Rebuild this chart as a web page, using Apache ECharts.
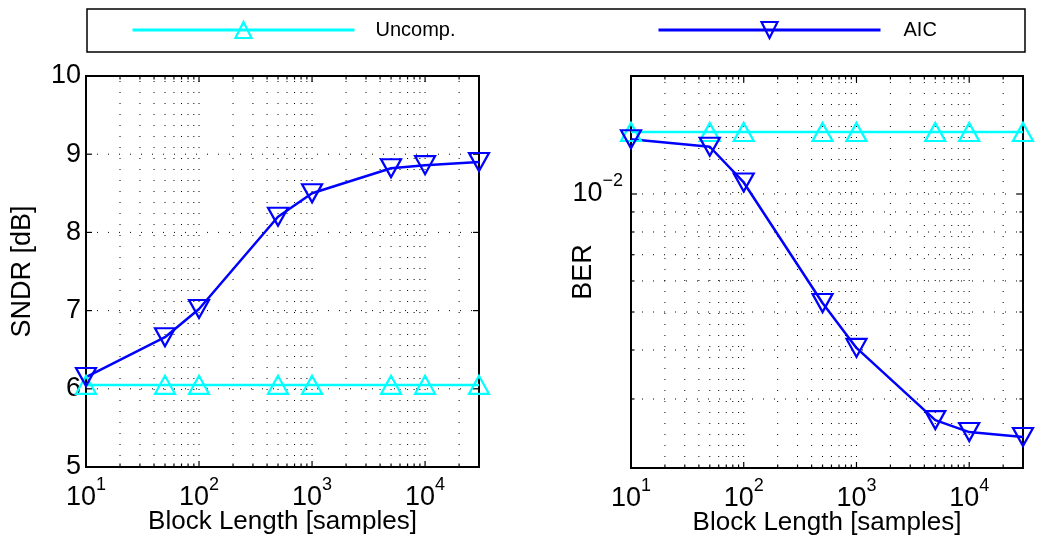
<!DOCTYPE html>
<html>
<head>
<meta charset="utf-8">
<script src="https://cdn.jsdelivr.net/npm/echarts@6/dist/echarts.min.js"></script>
<style>
  html, body { margin: 0; padding: 0; background: #fff; }
  #chart { width: 1039px; height: 546px; }
</style>
</head>
<body>
<div id="chart"></div>
<script>
// Block lengths (samples) at which both schemes were evaluated
const blockLength = [10, 50, 100, 500, 1000, 5000, 10000, 30000];

// SNDR [dB]
const sndrUncomp = [6.05, 6.05, 6.05, 6.05, 6.05, 6.05, 6.05, 6.05];
const sndrAic    = [6.15, 6.66, 7.02, 8.20, 8.50, 8.82, 8.86, 8.90];

// Bit error rate
const berUncomp = [0.0144, 0.0144, 0.0144, 0.0144, 0.0144, 0.0144, 0.0144, 0.0144];
const berAic    = [0.0138, 0.0132, 0.0107, 0.00527, 0.00405, 0.00265, 0.00247, 0.0024];

// Axis ranges and tick values
const xRange = [10, 30000];
const sndrRange = [5, 10];
const sndrTicks = [5, 6, 7, 8, 9, 10];
const berRange = [0.002, 0.02];

const FONT = 'Liberation Sans, Arial, Helvetica, sans-serif';
const CYAN = '#00ffff';
const BLUE = '#0000ff';

// 1..9 x 10^k ticks inside [lo, hi]
function logTicks(lo, hi) {
  const out = [];
  for (let e = Math.floor(Math.log10(lo)); e <= Math.ceil(Math.log10(hi)); e++) {
    for (let m = 1; m < 10; m++) {
      const v = m * Math.pow(10, e);
      if (v >= lo * 0.9999 && v <= hi * 1.0001) out.push(v);
    }
  }
  return out;
}
const xTicks = logTicks(xRange[0], xRange[1]);
const berTicks = logTicks(berRange[0], berRange[1]);

function isDecade(v) {
  const e = Math.log10(v);
  return Math.abs(e - Math.round(e)) < 1e-6;
}

function zip(xs, ys) { return xs.map((x, i) => [x, ys[i]]); }

function powLabel(v) {
  if (!isDecade(v)) return '';
  const e = Math.round(Math.log10(v));
  return '{b|10}{s|' + String(e).replace('-', '\u2212') + '}';
}

const powRich = {
  b: { fontFamily: FONT, fontSize: 27, color: '#000', lineHeight: 44 },
  s: { fontFamily: FONT, fontSize: 18, color: '#000', verticalAlign: 'top', lineHeight: 20 }
};

const dotted = { stroke: '#000', lineWidth: 1, lineDash: [1, 10] };
const tickStyle = { stroke: '#000', lineWidth: 1.2 };

// Vertical dotted grid lines with ticks on the bottom and top edges
function verticalGrid(yLo, yHi) {
  return function (params, api) {
    const v = api.value(0);
    const major = isDecade(v);
    const b = api.coord([v, yLo]);
    const t = api.coord([v, yHi]);
    const len = major ? 6 : 3.5;
    return {
      type: 'group',
      children: [
        { type: 'line', shape: { x1: b[0], y1: b[1], x2: t[0], y2: t[1] }, style: dotted },
        { type: 'line', shape: { x1: b[0], y1: b[1], x2: b[0], y2: b[1] - len }, style: tickStyle },
        { type: 'line', shape: { x1: t[0], y1: t[1], x2: t[0], y2: t[1] + len }, style: tickStyle }
      ]
    };
  };
}

// Horizontal dotted grid lines with ticks on the left and right edges
function horizontalGrid(xLo, xHi, logY) {
  return function (params, api) {
    const v = api.value(1);
    const major = logY ? isDecade(v) : true;
    const l = api.coord([xLo, v]);
    const r = api.coord([xHi, v]);
    const len = major ? 6 : 3.5;
    return {
      type: 'group',
      children: [
        { type: 'line', shape: { x1: l[0], y1: l[1], x2: r[0], y2: r[1] }, style: dotted },
        { type: 'line', shape: { x1: l[0], y1: l[1], x2: l[0] + len, y2: l[1] }, style: tickStyle },
        { type: 'line', shape: { x1: r[0], y1: r[1], x2: r[0] - len, y2: r[1] }, style: tickStyle }
      ]
    };
  };
}

function xAxisDef(gridIndex) {
  return {
    gridIndex: gridIndex,
    type: 'log',
    logBase: 10,
    min: xRange[0],
    max: xRange[1],
    name: 'Block Length [samples]',
    nameLocation: 'middle',
    nameGap: 42,
    nameMoveOverlap: false,
    nameTextStyle: { fontFamily: FONT, fontSize: 26, color: '#000' },
    axisLine: { show: false },
    axisTick: { show: false },
    splitLine: { show: false },
    axisLabel: { margin: 9, formatter: powLabel, rich: powRich }
  };
}

function lineSeries(name, color, rotate, xi, data) {
  return {
    name: name,
    type: 'line',
    xAxisIndex: xi,
    yAxisIndex: xi,
    data: data,
    clip: false,
    symbol: 'triangle',
    symbolSize: [20, 18],
    symbolRotate: rotate,
    showAllSymbol: true,
    lineStyle: { color: color, width: 2.5 },
    itemStyle: { color: 'rgba(255,255,255,0)', borderColor: color, borderWidth: 2.2 },
    z: 5
  };
}

function legendDef(name, left, textGap) {
  return {
    data: [name],
    left: left, top: 20, padding: 0,
    itemWidth: 222, itemHeight: 20,
    symbolRotate: 'inherit',
    lineStyle: { width: 3 },
    itemStyle: { borderWidth: 2.2 },
    textStyle: { fontFamily: FONT, fontSize: 20, color: '#000', padding: [0, 0, 0, textGap] }
  };
}

const chart = echarts.init(document.getElementById('chart'), null, { renderer: 'canvas' });

const option = {
  animation: false,
  backgroundColor: '#fff',
  graphic: [{
    type: 'rect',
    z: -1,
    shape: { x: 87, y: 9, width: 938, height: 43 },
    style: { fill: '#fff', stroke: '#000', lineWidth: 1.5 }
  }],
  legend: [legendDef('Uncomp.', 131, 16), legendDef('AIC', 657, 18)],
  grid: [
    { left: 86, top: 76, width: 393, height: 391, show: true, borderColor: '#000', borderWidth: 2, backgroundColor: '#fff' },
    { left: 631, top: 76, width: 392, height: 392, show: true, borderColor: '#000', borderWidth: 2, backgroundColor: '#fff' }
  ],
  xAxis: [xAxisDef(0), xAxisDef(1)],
  yAxis: [
    {
      gridIndex: 0,
      type: 'value',
      min: sndrRange[0], max: sndrRange[1], interval: 1,
      name: 'SNDR [dB]',
      nameLocation: 'middle',
      nameGap: 50,
      nameMoveOverlap: false,
      nameTextStyle: { fontFamily: FONT, fontSize: 27, color: '#000' },
      axisLine: { show: false },
      axisTick: { show: false },
      splitLine: { show: false },
      axisLabel: { margin: 5, fontFamily: FONT, fontSize: 27, color: '#000' }
    },
    {
      gridIndex: 1,
      type: 'log',
      logBase: 10,
      min: berRange[0], max: berRange[1],
      name: 'BER',
      nameLocation: 'middle',
      nameGap: 34,
      nameMoveOverlap: false,
      nameTextStyle: { fontFamily: FONT, fontSize: 27, color: '#000' },
      axisLine: { show: false },
      axisTick: { show: false },
      splitLine: { show: false },
      axisLabel: { margin: 8, formatter: powLabel, rich: powRich }
    }
  ],
  series: [
    // grid lines and ticks, left panel
    { type: 'custom', xAxisIndex: 0, yAxisIndex: 0, silent: true, z: 1,
      data: xTicks.map(v => [v, sndrRange[0]]), renderItem: verticalGrid(sndrRange[0], sndrRange[1]) },
    { type: 'custom', xAxisIndex: 0, yAxisIndex: 0, silent: true, z: 1,
      data: sndrTicks.map(v => [xRange[0], v]), renderItem: horizontalGrid(xRange[0], xRange[1], false) },
    // grid lines and ticks, right panel
    { type: 'custom', xAxisIndex: 1, yAxisIndex: 1, silent: true, z: 1,
      data: xTicks.map(v => [v, berRange[0]]), renderItem: verticalGrid(berRange[0], berRange[1]) },
    { type: 'custom', xAxisIndex: 1, yAxisIndex: 1, silent: true, z: 1,
      data: berTicks.map(v => [xRange[0], v]), renderItem: horizontalGrid(xRange[0], xRange[1], true) },

    lineSeries('Uncomp.', CYAN, 0, 0, zip(blockLength, sndrUncomp)),
    lineSeries('AIC', BLUE, 180, 0, zip(blockLength, sndrAic)),
    lineSeries('Uncomp.', CYAN, 0, 1, zip(blockLength, berUncomp)),
    lineSeries('AIC', BLUE, 180, 1, zip(blockLength, berAic))
  ]
};

chart.setOption(option);
</script>
</body>
</html>
